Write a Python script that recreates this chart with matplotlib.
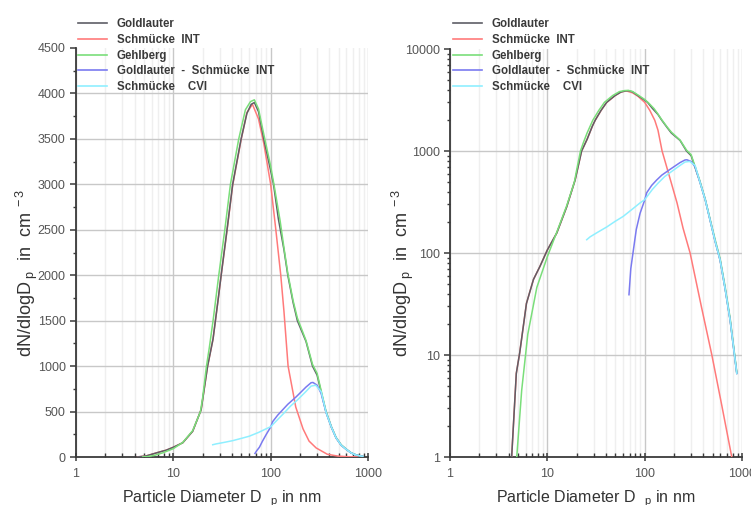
import numpy as np
import matplotlib
matplotlib.use("Agg")
import matplotlib.pyplot as plt
from matplotlib.ticker import FixedLocator, NullFormatter, LogLocator

# ---------------- data ----------------
gold_d = [4.3, 4.8, 5.2, 6.1, 7.2, 8.4, 10, 12.5, 15.8, 19.3, 22.5, 25.6, 29, 31, 35.6, 40.7,
          49.7, 57, 63, 68, 75, 85, 100, 107, 120, 137, 150, 170, 188, 231, 269, 300, 369,
          420, 470, 530, 596, 670, 755, 884]
gold_n = [1, 6.6, 10.5, 32, 55, 74, 107, 157, 283, 520, 1000, 1300, 1750, 2000, 2500, 3000,
          3500, 3780, 3880, 3900, 3800, 3500, 3150, 3000, 2620, 2280, 2000, 1700, 1500, 1270,
          1000, 900, 500, 330, 210, 130, 85, 45, 22, 6.6]

int_d = [4.3, 4.8, 5.2, 6.1, 7.2, 8.4, 10, 12.5, 15.8, 19.3, 22.5, 25.6, 29, 31, 35.6, 40.7,
         49.7, 57, 65, 75, 85, 100, 113, 127, 137, 151, 181, 215, 248, 293, 382, 490, 620, 785]
int_n = [1, 6.6, 10.5, 32, 55, 74, 107, 157, 283, 520, 1000, 1300, 1750, 2000, 2490, 2990,
         3490, 3790, 3880, 3720, 3450, 3000, 2500, 2000, 1600, 1000, 550, 310, 175, 100, 30,
         10, 3.2, 1]

gehl_d = [4.85, 5.45, 6.3, 7.8, 10, 12.5, 15.8, 19, 20, 21.9, 23.4, 25.6, 29.3, 33.8, 38.6,
          47, 55, 62, 68, 75, 85, 100, 110, 125, 137, 150, 170, 188, 231, 269, 300, 369, 420,
          470, 530, 596, 670, 755, 884]
gehl_n = [1, 4.5, 16, 46, 92, 160, 290, 500, 650, 1000, 1200, 1500, 2000, 2500, 3000, 3500,
          3820, 3910, 3930, 3830, 3550, 3200, 2950, 2600, 2300, 2020, 1720, 1530, 1280, 1020,
          920, 510, 335, 215, 135, 88, 47, 23, 6.8]

diff_d = [69, 72, 76.6, 82, 89.7, 100, 105, 118, 133, 150, 182, 231, 260, 272, 300, 330, 371,
          420, 470, 530, 596, 670, 755, 884]
diff_n = [39, 70, 107, 170, 245, 330, 390, 460, 520, 580, 660, 770, 817, 820, 790, 700, 490,
          330, 210, 130, 85, 45, 22, 6.6]

cvi_d = [25.4, 27.5, 33, 40.8, 50, 60, 75, 89.7, 100, 120, 137, 160, 188, 230, 260, 290, 330,
         371, 420, 470, 530, 596, 670, 755, 884]
cvi_n = [135, 144, 160, 180, 205, 228, 270, 310, 333, 420, 483, 560, 627, 720, 780, 790, 720,
         490, 330, 210, 130, 85, 45, 22, 6.6]

labels = ["Goldlauter", "Schmücke  INT", "Gehlberg", "Goldlauter  -  Schmücke  INT",
          "Schmücke    CVI"]
colors = ["#5e5e66", "#ff7a7a", "#7ade7a", "#7a7af0", "#8fefff"]
data = [(gold_d, gold_n), (int_d, int_n), (gehl_d, gehl_n), (diff_d, diff_n), (cvi_d, cvi_n)]
zorders = [3.2, 3.0, 3.3, 3.4, 3.5]

lin_ticks = [0, 500, 1000, 1500, 2000, 2500, 3000, 3500, 4000, 4500]
log_ticks = [1, 10, 100, 1000, 10000]
x_ticks = [1, 10, 100, 1000]

plt.rcParams['font.family'] = ['Liberation Sans', 'DejaVu Sans']
plt.rcParams['mathtext.fontset'] = 'custom'
plt.rcParams['mathtext.rm'] = 'Liberation Sans'
plt.rcParams['mathtext.it'] = 'Liberation Sans'

fig = plt.figure(figsize=(7.51, 5.05), dpi=100)
axL = fig.add_axes([76 / 751, 1 - 457 / 505, 292 / 751, 409 / 505])
axR = fig.add_axes([450 / 751, 1 - 457 / 505, 292 / 751, 408 / 505])

XLABEL = "Particle Diameter D$_{\\rm \\ \\ \\ p}$ in nm"
YLABEL = "dN/dlogD$_{\\rm \\ p}$  in  cm$^{\\ -3}$"

for ax in (axL, axR):
    for (d, n), name, c, z in zip(data, labels, colors, zorders):
        ax.plot(d, n, color=c, lw=1.1, label=name, zorder=z)
    ax.set_xscale("log")
    ax.set_xlim(1, 1000)
    ax.set_xticks(x_ticks)
    ax.set_xticklabels([str(t) for t in x_ticks])
    ax.xaxis.set_minor_locator(LogLocator(base=10, subs=np.arange(2, 10)))
    ax.xaxis.set_minor_formatter(NullFormatter())
    for s in ("top", "right"):
        ax.spines[s].set_visible(False)
    for s in ("left", "bottom"):
        ax.spines[s].set_color("#3a3a3a")
        ax.spines[s].set_linewidth(1.3)
    ax.tick_params(axis="x", which="major", direction="inout", length=6, width=1.1,
                   color="#3a3a3a", labelsize=9, labelcolor="#555555", pad=5)
    ax.tick_params(axis="x", which="minor", direction="in", length=3, width=1.0, color="#3a3a3a")
    ax.tick_params(axis="y", which="major", direction="out", length=4, width=1.1,
                   color="#3a3a3a", labelsize=9, labelcolor="#555555")
    ax.tick_params(axis="y", which="minor", direction="out", length=2.5, width=1.0, color="#3a3a3a")
    ax.grid(True, axis="x", which="major", color="#c8c8c8", lw=1.0)
    ax.grid(True, axis="x", which="minor", color="#efefef", lw=1.0)
    ax.set_axisbelow(True)
    ax.set_xlabel(XLABEL, fontsize=11.5, color="#333333", labelpad=6)
    ax.set_ylabel(YLABEL, fontsize=13, color="#333333")

# left: linear
axL.set_ylim(0, 4500)
axL.set_yticks(lin_ticks)
axL.yaxis.set_minor_locator(FixedLocator(list(np.arange(250, 4500, 500))))
axL.grid(True, axis="y", which="major", color="#c8c8c8", lw=1.0)
for gl, t in zip(axL.yaxis.get_gridlines(), lin_ticks):
    if t == 0 or t >= 4500:
        gl.set_visible(False)

# right: log
axR.set_yscale("log")
axR.set_ylim(1, 10000)
axR.set_yticks(log_ticks)
axR.set_yticklabels([str(t) for t in log_ticks])
axR.yaxis.set_minor_locator(LogLocator(base=10, subs=np.arange(2, 10)))
axR.yaxis.set_minor_formatter(NullFormatter())
axR.grid(True, axis="y", which="major", color="#c8c8c8", lw=1.0)
for gl, t in zip(axR.yaxis.get_gridlines(), log_ticks):
    if t == 1 or t >= 10000:
        gl.set_visible(False)

# legends placed above the plots
for ax, xl in ((axL, 78), (axR, 453)):
    leg = ax.legend(loc="upper left", bbox_to_anchor=(xl / 751, 1 - 18 / 505),
                    bbox_transform=fig.transFigure, frameon=False,
                    prop={"weight": "bold", "size": 8.3}, handlelength=2.5,
                    handletextpad=0.85, labelspacing=0.33, borderpad=0, borderaxespad=0)
    for t in leg.get_texts():
        t.set_color("#3a3a3a")
    for l in leg.get_lines():
        l.set_linewidth(1.2)
    leg.set_zorder(5)

axL.yaxis.set_label_coords(-0.125, 0.45)
axR.yaxis.set_label_coords(-0.118, 0.45)

fig.savefig("out.png", dpi=100)
